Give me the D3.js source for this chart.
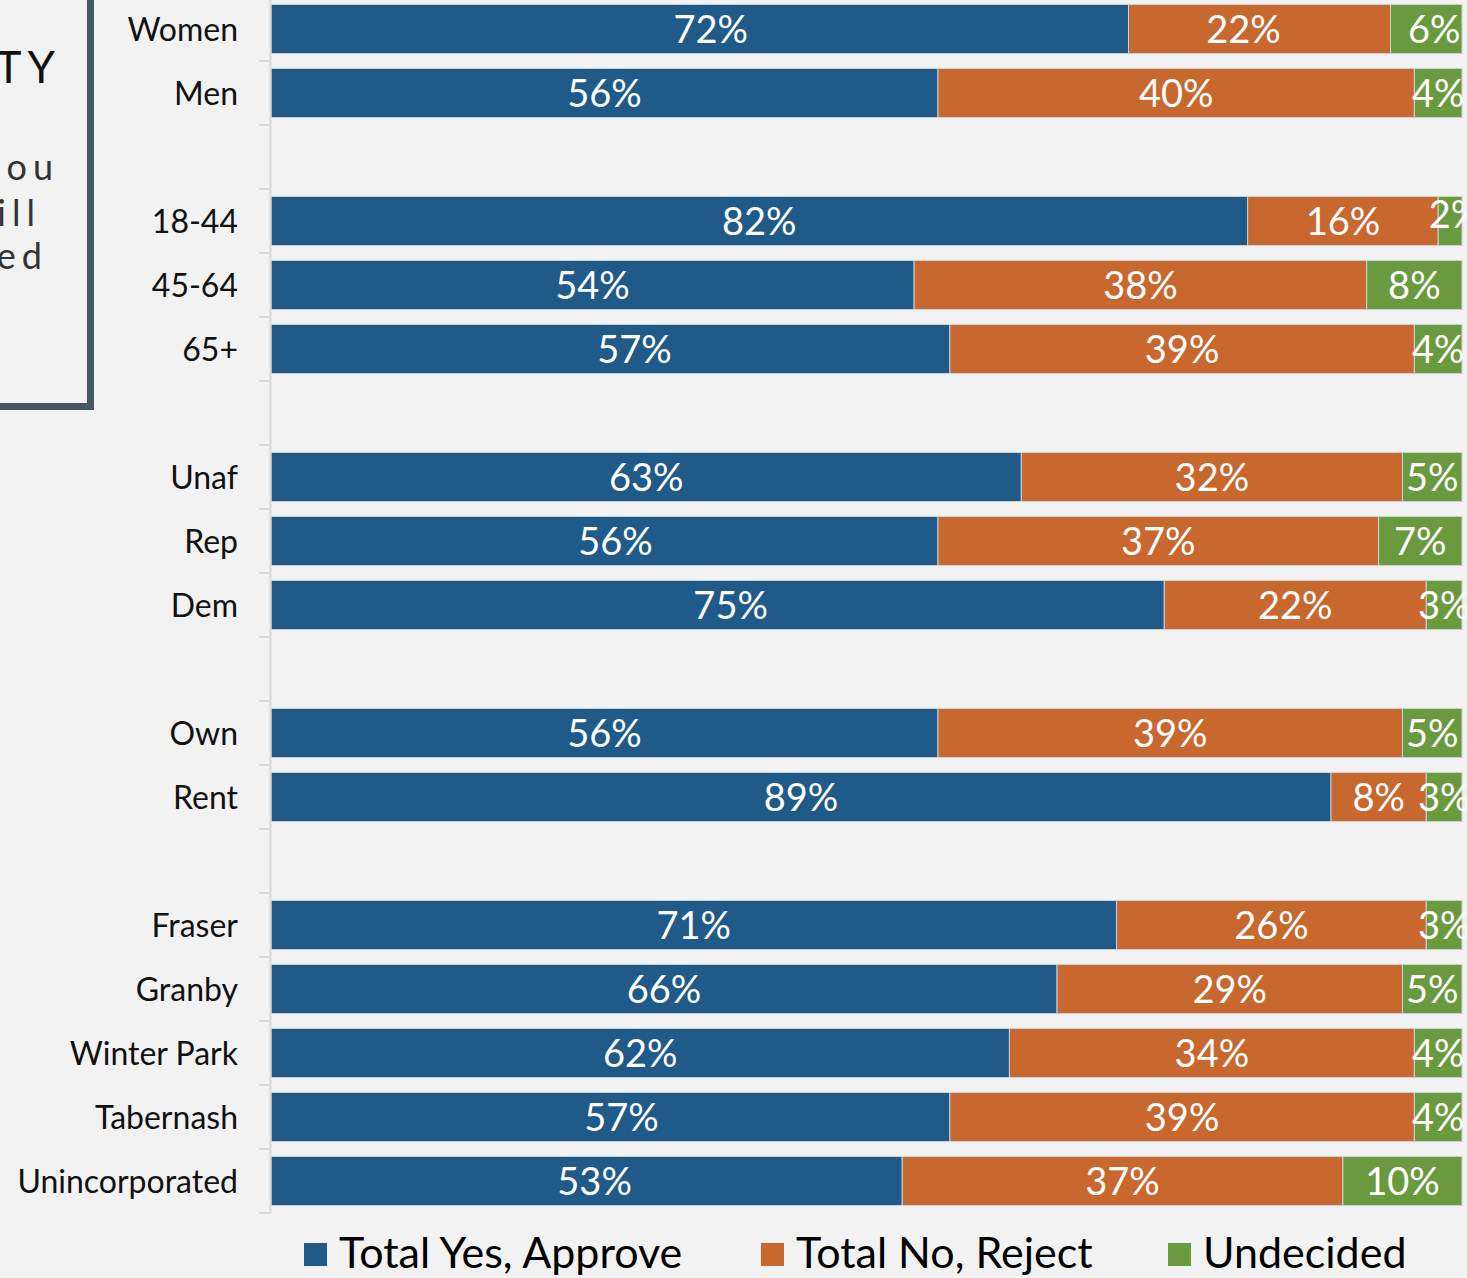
<!DOCTYPE html>
<html>
<head>
<meta charset="utf-8">
<script src="https://cdn.jsdelivr.net/npm/d3@7"></script>
<style>
  html, body { margin: 0; padding: 0; background: #f2f2f2; }
  svg { display: block; }
</style>
</head>
<body>
<script>
const categories = ["Women","Men","gap1","18-44","45-64","65+","gap2","Unaf","Rep","Dem","gap3","Own","Rent","gap4","Fraser","Granby","Winter Park","Tabernash","Unincorporated"];
const yesValues = [72,56,null,82,54,57,null,63,56,75,null,56,89,null,71,66,62,57,53];
const noValues  = [22,40,null,16,38,39,null,32,37,22,null,39,8,null,26,29,34,39,37];
const undValues = [6,4,null,2,8,4,null,5,7,3,null,5,3,null,3,5,4,4,10];
const seriesNames = ["Total Yes, Approve","Total No, Reject","Undecided"];
const seriesColors = ["#1f5a89","#c8682f","#6a9a3e"];
const boxTexts = ["TY","ou","ill","ed"];

// manual label nudges (as dragged in the original)
const labelNudge = {
  "Women|0": [11, 0], "Women|1": [-16, 0], "Women|2": [8, 0],
  "18-44|2": [5, -7], "65+|0": [24, 0], "Rep|0": [11, 0], "Dem|0": [13, 0],
  "Tabernash|0": [11, 0], "Unincorporated|0": [8, 0]
};

const W = 1467, H = 1278;
const FONT = "Lato, 'Open Sans', sans-serif";
const svg = d3.select("body").append("svg").attr("width", W).attr("height", H);
svg.append("rect").attr("width", W).attr("height", H).attr("fill", "#f2f2f2");

// partial text box at left
svg.append("rect").attr("x", -20).attr("y", -20).attr("width", 110.5).attr("height", 426.5)
  .attr("fill", "none").attr("stroke", "#46585f").attr("stroke-width", 7);
const bt = [{t: boxTexts[0], x: 61, y: 83, s: 44, c: "#111"},
            {t: boxTexts[1], x: 59, y: 180, s: 36, c: "#333"},
            {t: boxTexts[2], x: 41, y: 226, s: 36, c: "#333"},
            {t: boxTexts[3], x: 48, y: 269, s: 36, c: "#333"}];
svg.selectAll("text.box").data(bt).enter().append("text")
  .attr("x", d => d.x).attr("y", d => d.y).attr("text-anchor", "end")
  .attr("font-family", FONT).attr("font-size", d => d.s).attr("fill", d => d.c)
  .attr("letter-spacing", "6px")
  .text(d => d.t);

const x = d3.scaleLinear().domain([0, 100]).range([271, 1462]);
const y = d3.scaleBand().domain(categories).range([-3, 1213]).paddingInner(0.234).paddingOuter(0.117);

const rows = categories.map((c, i) => ({cat: c, vals: [yesValues[i], noValues[i], undValues[i]]}))
  .filter(r => r.vals[0] !== null);

const segs = [];
rows.forEach(r => {
  let acc = 0;
  r.vals.forEach((v, k) => {
    segs.push({cat: r.cat, k, x0: acc, x1: acc + v, v});
    acc += v;
  });
});

svg.selectAll("rect.seg").data(segs).enter().append("rect")
  .attr("x", d => x(d.x0)).attr("width", d => x(d.x1) - x(d.x0))
  .attr("y", d => y(d.cat)).attr("height", y.bandwidth())
  .attr("fill", d => seriesColors[d.k])
  .attr("stroke", "#c9d2d8").attr("stroke-width", 1);

const nud = d => labelNudge[d.cat + "|" + d.k] || [0, 0];
svg.selectAll("text.lab").data(segs).enter().append("text")
  .attr("x", d => (x(d.x0) + x(d.x1)) / 2 + nud(d)[0])
  .attr("y", d => y(d.cat) + y.bandwidth() / 2 + 14 + nud(d)[1])
  .attr("text-anchor", "middle").attr("fill", "#fff")
  .attr("font-family", FONT).attr("font-size", 38)
  .text(d => d.v + "%");

// axis
const yAxis = d3.axisLeft(y).tickSize(0).tickFormat(d => d.startsWith("gap") ? "" : d);
const ag = svg.append("g").attr("transform", "translate(270,0)").call(yAxis);
ag.select(".domain").attr("stroke", "#d9d9d9").attr("stroke-width", 2);
ag.selectAll(".tick text").attr("font-family", FONT).attr("font-size", 32).attr("fill", "#111")
  .attr("x", -32).attr("dy", "0.36em");
// tick marks at band boundaries
const step = y.step();
const bounds = d3.range(categories.length + 1).map(i => -3 + i * step);
svg.selectAll("line.tk").data(bounds.slice(1)).enter().append("line")
  .attr("x1", 259).attr("x2", 270).attr("y1", d => d).attr("y2", d => d)
  .attr("stroke", "#d9d9d9").attr("stroke-width", 2);

// legend
const legX = [304, 761, 1168];
const lg = svg.selectAll("g.leg").data(seriesNames).enter().append("g")
  .attr("transform", (d, i) => `translate(${legX[i]},1243)`);
lg.append("rect").attr("width", 23).attr("height", 23).attr("fill", (d, i) => seriesColors[i]);
lg.append("text").attr("x", 35).attr("y", 25).attr("font-family", FONT).attr("font-size", 43)
  .attr("fill", "#000").text(d => d);
</script>
</body>
</html>
